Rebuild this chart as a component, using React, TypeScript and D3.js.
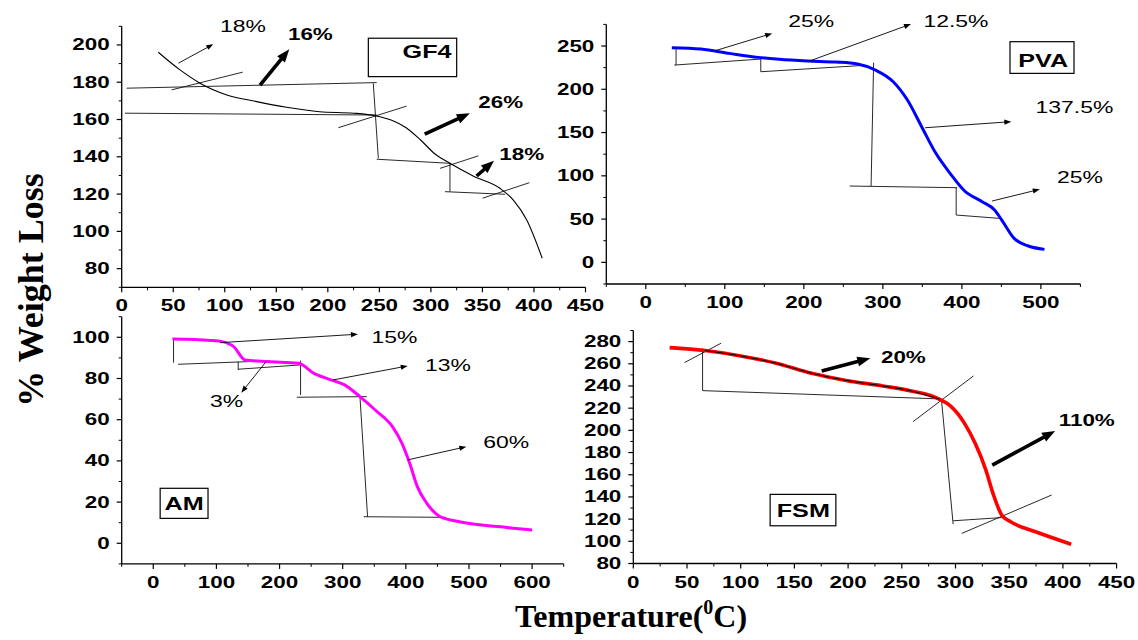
import * as d3 from "d3";

type Seg = [number, number, number, number];
type Note = { x: number; y: number; text: string; bold?: boolean; anchor?: string };
type Box = { x0: number; x1: number; y0: number; y1: number; text: string; tx: number; ty: number; anchor: string };

// ---- GF4 ----
const gf4Temp = [35.5, 56.6, 76, 102, 131, 160, 192, 225, 247, 262, 276, 290, 304, 318.5, 341, 367, 380, 393, 408];
const gf4Weight = [196.1, 186.6, 179.5, 173.2, 169.6, 166.6, 164.2, 163.4, 161.9, 159.6, 155.6, 149, 141.5, 136.5, 129.7, 123.1, 116.8, 106.1, 85.6];
const gf4Guides: Seg[] = [
  [4.8, 176.8, 247.4, 179.8],
  [244.1, 179.4, 249, 139.2],
  [3.2, 163.4, 247.4, 162.4],
  [48.5, 175.9, 117.4, 185.4],
  [210.2, 155.6, 276.5, 167.2],
  [247.4, 138.7, 318.5, 136.5],
  [308.9, 133.8, 346, 140.5],
  [318.5, 136.5, 318.5, 121.3],
  [313.6, 121.3, 371.9, 119.9],
  [350.2, 117.8, 395.5, 126.1],
];
const gf4Thin: Seg[] = [[55, 190.2, 88.9, 200.4]];
const gf4Bold: Seg[] = [
  [134.2, 178.5, 162.6, 197.7],
  [294, 152.1, 337.8, 163.4],
  [344.4, 129.7, 361.2, 137.9],
];
const gf4Notes: Note[] = [
  { x: 95.4, y: 206.8, text: "18%" },
  { x: 161.3, y: 202.7, text: "16%", bold: true },
  { x: 346, y: 166, text: "26%", bold: true },
  { x: 366.4, y: 138.3, text: "18%", bold: true },
];
const gf4Box: Box = { x0: 239.3, x1: 325, y0: 203.6, y1: 183, text: "GF4", tx: 320, ty: 192.9, anchor: "end" };

// ---- PVA ----
const pvaTemp = [32.9, 69.8, 105.9, 141.9, 168.9, 205, 241, 268, 290.5, 313.1, 331.1, 349.1, 367.1, 385.1, 403.2, 425.7, 441.4, 450.5, 466.2, 484.2, 504.5];
const pvaWeight = [248.1, 246.5, 241.5, 236.9, 234.6, 232.7, 231.5, 229.2, 222.3, 208.8, 187.6, 156.8, 126, 102.9, 82.8, 70.1, 60.5, 48.9, 27.7, 18.9, 15];
const pvaGuides: Seg[] = [
  [38.3, 247.3, 38.3, 228],
  [36, 228, 146.4, 235],
  [145.5, 235, 145.5, 220.3],
  [145.5, 220.3, 277, 227.7],
  [288.3, 230.7, 285.1, 88.2],
  [258.1, 88.2, 394.1, 86.3],
  [392.8, 86.3, 392.8, 54.7],
  [392.8, 54.7, 448.2, 50.8],
];
const pvaThin: Seg[] = [
  [87.8, 244.6, 159.9, 264.6],
  [207.2, 232.7, 335.6, 275.4],
  [353.6, 155.6, 462.6, 162.6],
  [438.3, 70.9, 498.6, 84.4],
];
const pvaNotes: Note[] = [
  { x: 180.2, y: 272.3, text: "25%" },
  { x: 351.4, y: 272.3, text: "12.5%" },
  { x: 493.2, y: 172.2, text: "137.5%" },
  { x: 520.3, y: 92, text: "25%" },
];
const pvaBox: Box = { x0: 460.9, x1: 541.9, y0: 255, y1: 218.4, text: "PVA", tx: 503, ty: 226, anchor: "middle" };

// ---- AM ----
const amTemp = [30.3, 90.9, 109.1, 127.3, 145.5, 181.8, 230.3, 254.5, 278.8, 303, 327.3, 351.5, 378.8, 393.9, 406.1, 418.2, 433.3, 454.5, 484.8, 545.5, 600];
const amWeight = [99.2, 98.5, 97.9, 95.5, 89, 88.2, 87.4, 82.5, 79.6, 76.9, 71.2, 64.7, 56.6, 48.5, 38.8, 27.5, 19.4, 12.9, 10.5, 8.1, 6.5];
const amGuides: Seg[] = [
  [32.1, 99.2, 32.1, 87.7],
  [39.4, 86.9, 151.5, 88.2],
  [134.5, 88.2, 134.5, 84.1],
  [134.5, 84.5, 233.3, 86.6],
  [233.3, 88.7, 233.3, 72],
  [227.3, 70.9, 338.2, 71.2],
  [327.3, 71.2, 339.4, 12.9],
  [333.3, 12.9, 463.6, 12.6],
];
const amThin: Seg[] = [
  [106.1, 97.4, 324.2, 101.5],
  [178.8, 88.2, 139.4, 73.1],
  [284.8, 79.3, 403, 86.1],
  [403, 40.5, 495.8, 46.9],
];
const amNotes: Note[] = [
  { x: 345.5, y: 97.1, text: "15%" },
  { x: 430.3, y: 83.7, text: "13%" },
  { x: 522.4, y: 46.1, text: "60%" },
  { x: 89.7, y: 66.3, text: "3%" },
];
const amBox: Box = { x0: 10.9, x1: 86.7, y0: 26.7, y1: 12.1, text: "AM", tx: 48.8, ty: 16.3, anchor: "middle" };

// ---- FSM ----
const fsmTemp = [33.8, 66.8, 99.9, 133, 166.1, 199.2, 232.3, 258.8, 285.2, 295.2, 308.4, 318.3, 328.3, 334.9, 343.1, 351.4, 374.6, 407.7];
const fsmWeight = [274.6, 271.9, 267.1, 260.5, 251.4, 244.8, 240, 235.5, 228, 222, 206.3, 188.3, 164.2, 143.2, 123.6, 117.6, 108.6, 97.4];
const fsmGuides: Seg[] = [
  [47.7, 261.1, 81.7, 278.5],
  [64.5, 274, 64.5, 235.8],
  [64.5, 235.8, 286.9, 228.3],
  [260.4, 207.8, 316.7, 249],
  [286.9, 228, 297.8, 115.5],
  [297.8, 118.5, 344.8, 121.5],
  [305.8, 107.1, 389.5, 141.7],
];
const fsmThin: Seg[] = [];
const fsmBold: Seg[] = [
  [175.4, 253.5, 220.7, 265],
  [334.2, 168.7, 392.8, 199.4],
];
const fsmNotes: Note[] = [
  { x: 230.6, y: 260.5, text: "20%", bold: true },
  { x: 396.1, y: 203.9, text: "110%", bold: true },
];
const fsmBox: Box = { x0: 127.4, x1: 188.6, y0: 142.3, y1: 114, text: "FSM", tx: 158.3, ty: 121.5, anchor: "middle" };

// ---- ticks ----
const gf4XTicks = [0, 50, 100, 150, 200, 250, 300, 350, 400, 450];
const gf4YTicks = [80, 100, 120, 140, 160, 180, 200];
const pvaXTicks = [0, 100, 200, 300, 400, 500];
const pvaYTicks = [0, 50, 100, 150, 200, 250];
const amXTicks = [0, 100, 200, 300, 400, 500, 600];
const amYTicks = [0, 20, 40, 60, 80, 100];
const fsmXTicks = [0, 50, 100, 150, 200, 250, 300, 350, 400, 450];
const fsmYTicks = [80, 100, 120, 140, 160, 180, 200, 220, 240, 260, 280];

const SANS = "'Liberation Sans', Arial, sans-serif";
const SERIF = "'Liberation Serif', 'Times New Roman', serif";

type Cfg = {
  xDomain: [number, number];
  xRange: [number, number];
  yDomain: [number, number];
  yRange: [number, number];
  xTicks: number[];
  xMinor: number[];
  yTicks: number[];
  yMinor: number[];
  temp: number[];
  weight: number[];
  color: string;
  width: number;
  guides: Seg[];
  thin: Seg[];
  bold: Seg[];
  notes: Note[];
  box: Box;
  overlay?: [number, number];
};

function Stretch({ x, y, text, size, bold, anchor = "start", sx = 1.4 }: any) {
  return (
    <text
      transform={`translate(${x},${y}) scale(${sx},1)`}
      fontFamily={SANS}
      fontSize={size}
      fontWeight={bold ? "bold" : "normal"}
      textAnchor={anchor}
      fill="#000"
    >
      {text}
    </text>
  );
}

function Arrow({ p, heavy }: { p: [number, number, number, number]; heavy: boolean }) {
  const [x1, y1, x2, y2] = p;
  const dx = x2 - x1;
  const dy = y2 - y1;
  const len = Math.hypot(dx, dy) || 1;
  const ux = dx / len;
  const uy = dy / len;
  const L = heavy ? 13 : 7;
  const W = heavy ? 5 : 2.6;
  const bx = x2 - ux * L;
  const by = y2 - uy * L;
  const head = `M${x2},${y2}L${bx - uy * W},${by + ux * W}L${bx + uy * W},${by - ux * W}Z`;
  return (
    <g>
      <line x1={x1} y1={y1} x2={x2 - ux * L * 0.7} y2={y2 - uy * L * 0.7} stroke="#000" strokeWidth={heavy ? 3.6 : 0.9} />
      <path d={head} fill="#000" />
    </g>
  );
}

function Panel({ cfg }: { cfg: Cfg }) {
  const x = d3.scaleLinear().domain(cfg.xDomain).range(cfg.xRange);
  const y = d3.scaleLinear().domain(cfg.yDomain).range(cfg.yRange);
  const pts: [number, number][] = cfg.temp.map((t, i) => [t, cfg.weight[i]]);
  const line = d3
    .line<[number, number]>()
    .x((d) => x(d[0]))
    .y((d) => y(d[1]))
    .curve(d3.curveMonotoneX);
  const x0 = cfg.xRange[0];
  const yb = cfg.yRange[0];
  const overlayPts = cfg.overlay ? pts.filter((d) => d[0] >= cfg.overlay![0] && d[0] <= cfg.overlay![1]) : [];
  const px = (s: Seg): Seg => [x(s[0]), y(s[1]), x(s[2]), y(s[3])];

  return (
    <g>
      {/* axes */}
      <line x1={x0} y1={cfg.yRange[1]} x2={x0} y2={yb} stroke="#000" strokeWidth={1.3} />
      <line x1={x0} y1={yb} x2={cfg.xRange[1]} y2={yb} stroke="#000" strokeWidth={1.3} />
      {cfg.yTicks.map((v) => (
        <g key={"yt" + v}>
          <line x1={x0 - 5} x2={x0} y1={y(v)} y2={y(v)} stroke="#000" strokeWidth={1.2} />
          <Stretch x={x0 - 12} y={y(v) + 5.5} text={String(v)} size={16} bold anchor="end" sx={1.4} />
        </g>
      ))}
      {cfg.yMinor.map((v) => (
        <line key={"ym" + v} x1={x0 - 3} x2={x0} y1={y(v)} y2={y(v)} stroke="#000" strokeWidth={1} />
      ))}
      {cfg.xTicks.map((v) => (
        <g key={"xt" + v}>
          <line x1={x(v)} x2={x(v)} y1={yb} y2={yb + 5} stroke="#000" strokeWidth={1.2} />
          <Stretch x={x(v)} y={yb + 24} text={String(v)} size={16} bold anchor="middle" sx={1.4} />
        </g>
      ))}
      {cfg.xMinor.map((v) => (
        <line key={"xm" + v} x1={x(v)} x2={x(v)} y1={yb} y2={yb + 3} stroke="#000" strokeWidth={1} />
      ))}

      {/* guides */}
      {cfg.guides.map((s, i) => {
        const [a, b, c, d] = px(s);
        return <line key={"g" + i} x1={a} y1={b} x2={c} y2={d} stroke="#111" strokeWidth={0.9} />;
      })}

      {/* curve */}
      <path d={line(pts) ?? ""} fill="none" stroke={cfg.color} strokeWidth={cfg.width} strokeLinejoin="round" />
      {overlayPts.length > 1 && (
        <path d={line(overlayPts) ?? ""} fill="none" stroke="#000" strokeWidth={1} />
      )}

      {cfg.thin.map((s, i) => (
        <Arrow key={"ta" + i} p={px(s)} heavy={false} />
      ))}
      {cfg.bold.map((s, i) => (
        <Arrow key={"ba" + i} p={px(s)} heavy={true} />
      ))}
      {cfg.notes.map((n, i) => (
        <Stretch
          key={"n" + i}
          x={x(n.x)}
          y={y(n.y)}
          text={n.text}
          size={n.bold ? 16 : 17}
          bold={n.bold}
          sx={n.bold ? 1.4 : 1.35}
        />
      ))}

      {/* label box */}
      <rect
        x={x(cfg.box.x0)}
        y={y(cfg.box.y0)}
        width={x(cfg.box.x1) - x(cfg.box.x0)}
        height={y(cfg.box.y1) - y(cfg.box.y0)}
        fill="#fff"
        stroke="#000"
        strokeWidth={1.2}
      />
      <Stretch x={x(cfg.box.tx)} y={y(cfg.box.ty)} text={cfg.box.text} size={18} bold anchor={cfg.box.anchor} sx={1.4} />
    </g>
  );
}

const panels: Cfg[] = [
  {
    xDomain: [0, 450],
    xRange: [121.7, 585.5],
    yDomain: [70, 210],
    yRange: [287.3, 26.3],
    xTicks: gf4XTicks,
    xMinor: d3.range(25, 450, 50),
    yTicks: gf4YTicks,
    yMinor: d3.range(70, 211, 20),
    temp: gf4Temp,
    weight: gf4Weight,
    color: "#000",
    width: 1.1,
    guides: gf4Guides,
    thin: gf4Thin,
    bold: gf4Bold,
    notes: gf4Notes,
    box: gf4Box,
  },
  {
    xDomain: [-50, 550],
    xRange: [606.3, 1080.4],
    yDomain: [-25, 275],
    yRange: [284, 24.4],
    xTicks: pvaXTicks,
    xMinor: d3.range(-50, 551, 100),
    yTicks: pvaYTicks,
    yMinor: d3.range(-25, 276, 50),
    temp: pvaTemp,
    weight: pvaWeight,
    color: "#0000ff",
    width: 3,
    guides: pvaGuides,
    thin: pvaThin,
    bold: [],
    notes: pvaNotes,
    box: pvaBox,
  },
  {
    xDomain: [-50, 650],
    xRange: [121.7, 563.7],
    yDomain: [-10, 110],
    yRange: [563.9, 316.7],
    xTicks: amXTicks,
    xMinor: d3.range(-50, 651, 100),
    yTicks: amYTicks,
    yMinor: d3.range(-10, 111, 20),
    temp: amTemp,
    weight: amWeight,
    color: "#ff00ff",
    width: 3,
    guides: amGuides,
    thin: amThin,
    bold: [],
    notes: amNotes,
    box: amBox,
  },
  {
    xDomain: [0, 450],
    xRange: [633.3, 1116.6],
    yDomain: [80, 290],
    yRange: [563.5, 330.5],
    xTicks: fsmXTicks,
    xMinor: d3.range(25, 450, 50),
    yTicks: fsmYTicks,
    yMinor: d3.range(90, 291, 20),
    temp: fsmTemp,
    weight: fsmWeight,
    color: "#ff0000",
    width: 3.6,
    guides: fsmGuides,
    thin: fsmThin,
    bold: fsmBold,
    notes: fsmNotes,
    box: fsmBox,
    overlay: [60, 290],
  },
];

export default function App() {
  return (
    <svg
      width={1138}
      height={640}
      style={{ position: "absolute", left: 0, top: 0, background: "#fff" }}
    >
      <rect width={1138} height={640} fill="#fff" />
      {panels.map((p, i) => (
        <Panel key={i} cfg={p} />
      ))}
      <text
        transform="translate(43,290) rotate(-90)"
        fontFamily={SERIF}
        fontWeight="bold"
        fontSize={36}
        textAnchor="middle"
      >
        % Weight Loss
      </text>
      <text x={631} y={627} fontFamily={SERIF} fontWeight="bold" fontSize={32} textAnchor="middle">
        Temperature(
        <tspan fontSize={20} dy={-13}>
          0
        </tspan>
        <tspan dy={13}>C)</tspan>
      </text>
    </svg>
  );
}
